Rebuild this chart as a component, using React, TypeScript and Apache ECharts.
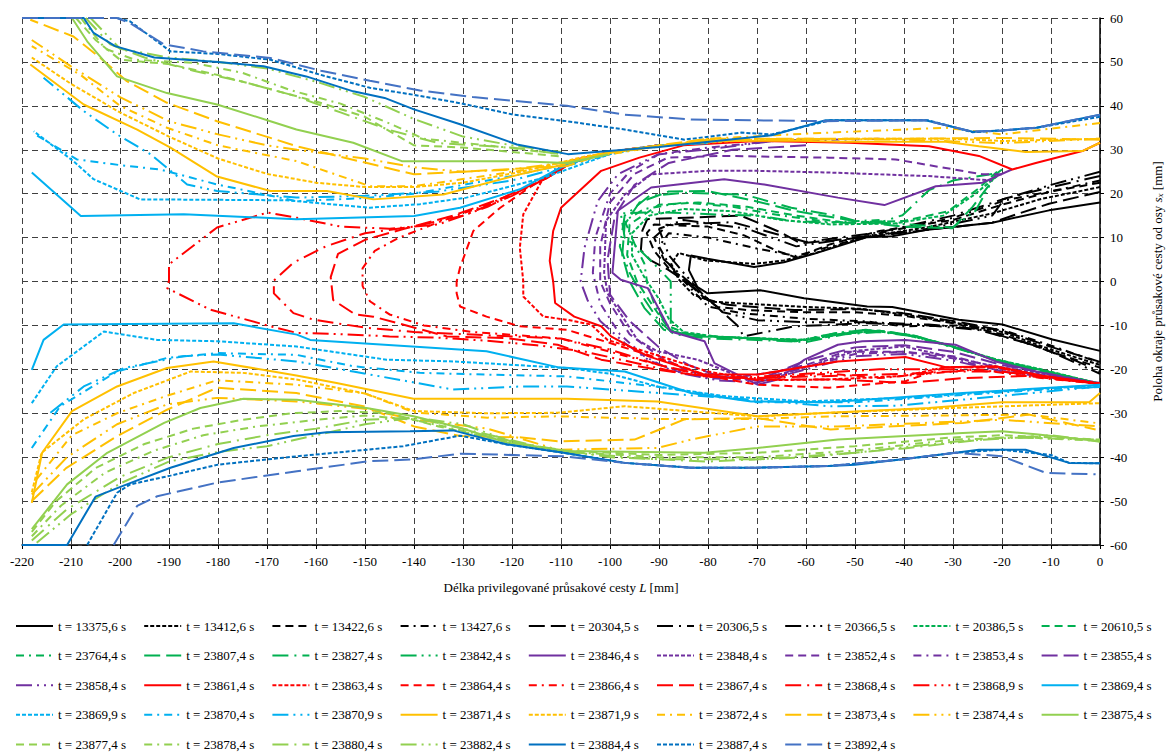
import React, { useEffect, useRef } from "react";
import * as echarts from "echarts";

type Pt = [number, number];

// ---------- axis ticks ----------
const xMin = -220;
const xMax = 0;
const xStep = 10;
const yMin = -60;
const yMax = 60;
const yStep = 10;

// ---------- legend names (row order, 9 per row) ----------
const seriesNames: string[] = [
  "t = 13375,6 s", "t = 13412,6 s", "t = 13422,6 s", "t = 13427,6 s", "t = 20304,5 s", "t = 20306,5 s", "t = 20366,5 s", "t = 20386,5 s", "t = 20610,5 s",
  "t = 23764,4 s", "t = 23807,4 s", "t = 23827,4 s", "t = 23842,4 s", "t = 23846,4 s", "t = 23848,4 s", "t = 23852,4 s", "t = 23853,4 s", "t = 23855,4 s",
  "t = 23858,4 s", "t = 23861,4 s", "t = 23863,4 s", "t = 23864,4 s", "t = 23866,4 s", "t = 23867,4 s", "t = 23868,4 s", "t = 23868,9 s", "t = 23869,4 s",
  "t = 23869,9 s", "t = 23870,4 s", "t = 23870,9 s", "t = 23871,4 s", "t = 23871,9 s", "t = 23872,4 s", "t = 23873,4 s", "t = 23874,4 s", "t = 23875,4 s",
  "t = 23877,4 s", "t = 23878,4 s", "t = 23880,4 s", "t = 23882,4 s", "t = 23884,4 s", "t = 23887,4 s", "t = 23892,4 s",
];

// ---------- black ----------
const s13375_6: Pt[] = [[0,18],[-10.4,16.2],[-22,13.4],[-35.6,11.7],[-42.4,10.3],[-47.5,10.1],[-58.4,6.3],[-64.5,4.4],[-70.6,3.3],[-80.1,5.2],[-83.5,5.9],[-83.9,2.6],[-82.2,-1.2],[-80.1,-2.7],[-69.3,-2],[-60.4,-3.8],[-47.5,-5.7],[-42.4,-5.8],[-28.8,-8.7],[-19.9,-9.8],[-9.7,-13.2],[0,-15.8]];
const s13412_6: Pt[] = [[0,21.5],[-12,18.8],[-22,15.5],[-35,12.4],[-47,10.3],[-52,8.8],[-58,6.5],[-64.5,4.8],[-70.6,4],[-80.5,4.8],[-86,6.5],[-87.5,4],[-86,0.5],[-83,-3],[-79,-4.6],[-70,-5.2],[-60,-5.8],[-49,-6.2],[-40,-7.5],[-30,-9.3],[-20,-11.5],[-10,-15.5],[0,-19]];
const s13422_6: Pt[] = [[0,22.5],[-10,20.5],[-20,17.5],[-30,14],[-45,11.5],[-55,8.5],[-62,5.5],[-66,7],[-72.6,10.5],[-80,12.5],[-91,13],[-92.5,11],[-91,7],[-88,3],[-84,0],[-81,-3.5],[-78,-5.8],[-72,-6.5],[-60,-7],[-50,-7],[-40,-7.8],[-30,-9.5],[-20,-12],[-10,-16],[0,-19.6]];
const s13427_6: Pt[] = [[0,23],[-8,21],[-19.3,18.5],[-30,14.5],[-45,11],[-55,8],[-62,5.8],[-70,7.5],[-80,10],[-88,11],[-90,8],[-88,4],[-84,-1],[-80,-5.7],[-73.3,-7.2],[-60,-8.5],[-47.5,-9.1],[-40.3,-10.2],[-28.8,-10],[-19.9,-11],[-9.7,-14.7],[0,-18.5]];
const s20304_5: Pt[] = [[0,20.4],[-10.4,17.7],[-16.5,15.5],[-22,13.4],[-35.6,11.7],[-47.5,10.1],[-61.1,8.7],[-65.2,11.2],[-73.3,15],[-92.4,14.2],[-93.4,11.6],[-93.7,7.1],[-91.7,4.8],[-88,2.6],[-84,-0.5],[-80.5,-4],[-76,-5.3],[-62.4,-6.5],[-49,-6.3],[-40.3,-7.2],[-28.8,-9.2],[-19.9,-11.2],[-9.7,-15],[0,-18.3]];
const s20306_5: Pt[] = [[0,24],[-10,21.5],[-19,19],[-30,15],[-45,11.2],[-60,9],[-75,13.5],[-88,13],[-91,10],[-89,5],[-84,0],[-78,-6],[-74,-10],[-72.7,-12.5],[-62.4,-10.2],[-47.5,-9.5],[-35,-10],[-25,-11],[-15,-14],[-5,-18],[0,-20.5]];
const s20366_5: Pt[] = [[0,25],[-10,22],[-19.5,18.8],[-22,15],[-35,12],[-50,10],[-62,8],[-72,12],[-85,14],[-90,12],[-88,6],[-85,2],[-81,-3],[-77,-7],[-70,-8.8],[-60,-9.3],[-47.5,-9.3],[-35,-9.8],[-25,-10.8],[-12,-15],[0,-21]];

// ---------- dark green ----------
const s20386_5: Pt[] = [[-21,24],[-26,19.5],[-32,15],[-42,13.2],[-55,13],[-65,14],[-75,16],[-85,16.5],[-92,15],[-95.5,11],[-95.5,6],[-93,1],[-90,-4],[-88,-8.5],[-85,-11.5],[-78,-12.6],[-68,-13],[-60,-13.3],[-52,-11.8],[-45,-11.3],[-38,-12.4],[-30,-14.8],[-21,-17.8],[-12,-20],[0,-23.3]];
const s20610_5: Pt[] = [[-21,25],[-25,21],[-31,16],[-40,13.8],[-52,13.4],[-62,15],[-72,17],[-82,18],[-90,17.5],[-96,13],[-96.5,6],[-94.5,0],[-91,-6],[-88.5,-10],[-84,-12],[-75,-12.8],[-65,-13.3],[-58,-13.2],[-52,-11.7],[-45,-11.2],[-38,-12.3],[-30,-14.9],[-21,-17.9],[-12,-20.2],[0,-23.3]];
const s23764_4: Pt[] = [[-45,14],[-55,13.5],[-65,15],[-75,17],[-85,18],[-93,16.5],[-97,13.8],[-95,8.6],[-93,4.1],[-92.4,-0.4],[-91,-5],[-89,-9],[-87,-11.5],[-80,-12.5],[-70,-12.9],[-62,-13.6],[-53.5,-11.7],[-47.8,-11],[-39.7,-12.1],[-30.1,-14.8],[-21.3,-17.8],[-14.5,-19.5],[0,-23.3]];
const s23807_4: Pt[] = [[-22.6,22],[-26,17],[-30.1,12.1],[-40.3,12.5],[-49.2,13.6],[-62.4,16.1],[-70.6,18.4],[-80.1,20.6],[-88,20.5],[-94,18],[-97,13],[-97.5,6],[-96,0],[-93,-6],[-89,-11],[-82,-12.5],[-70,-13],[-60,-13.3],[-52,-11.8],[-45,-11.2],[-38,-12.3],[-30,-14.8],[-21,-18],[-10,-21],[0,-23.3]];
const s23827_4: Pt[] = [[-22,24.5],[-30,23],[-34.9,20.8],[-40.3,15.1],[-44.4,13.6],[-49.2,13.6],[-53.5,14.9],[-63,16.8],[-72.6,19.8],[-84.8,20.2],[-92,19.5],[-97,15],[-98,8],[-96,2],[-93,-4],[-90,-9],[-87,-12],[-80,-13],[-70,-13.3],[-60,-13.8],[-52,-12],[-45,-11.5],[-38,-12.5],[-30,-15],[-20,-18.3],[-10,-21],[0,-23.3]];
const s23842_4: Pt[] = [[-20,25.5],[-21.3,24.4],[-25.4,16.1],[-30.1,12.3],[-44.4,13.4],[-55.3,13.4],[-63,13.8],[-69.9,15],[-76.7,15.2],[-90.3,15.8],[-97.8,15.5],[-97,10],[-94.4,7.7],[-90.3,3.2],[-87.6,0],[-87.6,-11.4],[-80.1,-12.5],[-69.9,-12.9],[-62.4,-13.6],[-53.5,-11.7],[-47.8,-11],[-39.7,-12.1],[-30.1,-14.8],[-21.3,-17.8],[-14.5,-19.5],[0,-23.3]];

// ---------- purple ----------
const s23846_4: Pt[] = [[-18,25.5],[-24,22.5],[-33.5,21.7],[-44,17.4],[-53.5,19.1],[-68.5,22.1],[-76.7,23.3],[-91.6,21.4],[-98.4,16.1],[-99.5,2],[-97.8,0.4],[-92.3,-1.5],[-87.6,-11.4],[-80.7,-13.6],[-78.7,-18.6],[-69.9,-23.5],[-65.8,-22.3],[-60.3,-17.8],[-53.5,-14.4],[-48.5,-13.6],[-39.7,-13.3],[-29.5,-14.4],[-21.3,-18.2],[-13.1,-20.5],[0,-23.5]];
const s23848_4: Pt[] = [[-22,23],[-35,24],[-55,24.8],[-70,25.2],[-80,25.2],[-91.6,24.4],[-97,19.8],[-100.8,13.8],[-101.2,2],[-100.5,-2.7],[-94.4,-13.3],[-90.3,-15.9],[-82.1,-17.8],[-75,-21],[-69.9,-22.5],[-60,-19.5],[-50,-15.8],[-40,-14.8],[-28,-17.8],[-21.3,-19.3],[0,-23.1]];
const s23852_4: Pt[] = [[-20,24.4],[-24,24.4],[-41.7,27.8],[-55.3,28.2],[-76.7,28.6],[-88.2,28.2],[-95,24.5],[-100,18],[-102,8],[-102,0],[-100,-5],[-96,-12],[-90,-17],[-84,-20.5],[-75,-22],[-66,-20.5],[-60,-19],[-52,-16],[-40,-16],[-30,-17],[-20,-20],[0,-23.3]];
const s23853_4: Pt[] = [[-45,32.5],[-66.5,32],[-80,30.5],[-90,29],[-96,25],[-100,20],[-103,10],[-103.5,2],[-102,-5],[-98,-12],[-93,-17],[-88,-20],[-80,-22],[-70,-22.5],[-60,-19.5],[-50,-16.5],[-40,-16],[-30,-17.5],[-20,-20.5],[0,-23.3]];
const s23855_4: Pt[] = [[-60,31],[-75,30],[-88,27],[-95,22],[-99,15],[-100.5,5],[-100,-3],[-96,-9],[-90,-15],[-84,-19],[-78,-21.5],[-70,-22.5],[-60,-18],[-50,-15],[-40,-14.5],[-30,-16],[-20,-19],[0,-23.3]];
const s23858_4: Pt[] = [[-60,32.3],[-66.5,32],[-80.1,30.1],[-90.3,28.9],[-98.4,24.4],[-102.5,18.3],[-105.2,7.7],[-106,0],[-104.6,-4.2],[-102,-9],[-97,-14],[-92,-18],[-85,-21],[-78,-22.5],[-70,-23],[-60,-20],[-50,-17],[-40,-16.5],[-30,-18],[-20,-20.5],[0,-23.3]];

// ---------- red ----------
const s23861_4: Pt[] = [[0,31.6],[-3.6,29.7],[-13.1,27],[-17.9,25.5],[-24.7,28.6],[-34.9,30.8],[-51.2,31.6],[-70,32],[-85,31],[-94,28.2],[-101.8,25.2],[-110,16.8],[-111.6,11.5],[-112.3,4.7],[-111.6,0],[-111.2,-4.9],[-107.3,-8],[-101.8,-10.2],[-99.8,-12.5],[-92.3,-17],[-80.7,-21.2],[-69.9,-21.2],[-53.5,-18.2],[-39.7,-17.2],[-31.5,-19.5],[-21.3,-19.3],[-11.1,-21.6],[0,-23.3]];
const s23863_4: Pt[] = [[-90,31],[-100,29.5],[-108,27.5],[-113.6,23.6],[-117.7,15.3],[-118.4,7.7],[-117.7,0],[-117.7,-3.4],[-113.6,-8],[-108.8,-8.7],[-103.9,-9.8],[-100.5,-13.3],[-90.3,-16.8],[-80,-20.5],[-70,-22.5],[-55.3,-22.3],[-40,-21.5],[-31.5,-19.5],[-21.3,-19.5],[-11,-21.7],[0,-23.3]];
const s23864_4: Pt[] = [[-90,31],[-100,29.5],[-108,27],[-113.6,23.6],[-122.4,16.8],[-127.9,11.5],[-130.6,3.2],[-131.3,0],[-131.3,-2.7],[-130.6,-5.7],[-125.2,-8],[-118.4,-10.2],[-108.8,-11],[-100,-14],[-90,-17.5],[-80,-21.5],[-70,-23.5],[-55.3,-24.2],[-39.7,-22.7],[-31.5,-19.5],[-21.3,-19.5],[-11,-21.7],[0,-23.3]];
const s23866_4: Pt[] = [[-90,31],[-100,29.5],[-108,27],[-113,23.5],[-125,17.5],[-135,13.5],[-143,10],[-148,7],[-150.5,3],[-150.5,-1],[-149,-4.5],[-145,-7.5],[-138,-10],[-128,-11.5],[-118,-12.3],[-110,-13],[-100,-16],[-90,-19],[-80,-21.7],[-70,-22],[-55,-21],[-45,-22],[-35,-21],[-25,-20],[-12,-22],[0,-23.3]];
const s23867_4: Pt[] = [[-90,31],[-100,29.5],[-108,27],[-113,23.5],[-122,19],[-132,15],[-142,12],[-150,9.5],[-155.5,6.3],[-157,1],[-156.5,-4.2],[-152,-7.5],[-148.3,-8],[-133.3,-12.5],[-121,-12.9],[-110.7,-14.4],[-101.8,-17.8],[-90.3,-20.1],[-80.7,-21.6],[-70,-22.3],[-53.5,-22.3],[-39.7,-23.1],[-28,-22],[-15,-21.5],[0,-23.3]];
const s23868_4: Pt[] = [[-90,31],[-100,29.5],[-108,27],[-113,23.5],[-120,19.5],[-130,15],[-140,12.5],[-150,11],[-158,8],[-164.6,4.3],[-168.6,0.2],[-168.6,-2.7],[-164.6,-7.2],[-160.5,-8.7],[-150,-10.5],[-140,-11.5],[-130,-12],[-120,-12.5],[-110,-13],[-100,-15.5],[-90,-19],[-80,-21.5],[-70,-22],[-55,-21.5],[-40,-21],[-30,-20.5],[-20,-20.5],[-10,-22],[0,-23.3]];
const s23868_9: Pt[] = [[-90,31],[-100,29.5],[-108,27],[-113,23.5],[-125,17],[-135,13],[-145,12],[-155,12.5],[-163.9,14.5],[-169.9,15.7],[-180.2,12.3],[-190,3.9],[-190,0.2],[-190.4,-1.5],[-181.6,-6.4],[-169.3,-10.2],[-163.9,-11.7],[-155,-12],[-145,-12.5],[-135,-12.8],[-125,-13.5],[-115,-14.5],[-105,-16],[-95,-18.5],[-85,-21],[-75,-22],[-60,-21],[-45,-20],[-30,-20],[-15,-21],[0,-23.3]];

// ---------- cyan ----------
const s23869_4_up: Pt[] = [[-80,31.5],[-90,31],[-100,29.5],[-108.8,26.7],[-118.4,21],[-130.6,16.8],[-140,14.9],[-164,14.2],[-187,15.3],[-208,14.9],[-218,24.8]];
const s23869_4_lo: Pt[] = [[-218,-20.1],[-215.6,-13.3],[-211.5,-9.8],[-176.8,-9.5],[-163.9,-12.1],[-161.2,-13.3],[-125.2,-15.9],[-110.7,-19.5],[-97,-20.5],[-83.5,-25.4],[-71.2,-27.3],[-55.3,-27.5],[-28,-25.4],[0,-23.5]];
const s23869_9_up: Pt[] = [[-90,31],[-100,29],[-113.6,23.6],[-129.3,19.1],[-138.8,17.6],[-149,16.8],[-166,18.5],[-195.9,18.7],[-205.4,23.3],[-209.5,27.4],[-217.6,34.2]];
const s23869_9_lo: Pt[] = [[-218,-27.7],[-212.9,-19.3],[-203.3,-11.4],[-192.4,-13.3],[-180.2,-13.6],[-164,-14.8],[-145.6,-17.8],[-132,-18.2],[-108.8,-19.7],[-100,-21],[-90.3,-23.9],[-76.7,-26.1],[-60,-27.3],[-40,-26.5],[-20,-25],[0,-23.6]];
const s23870_4_up: Pt[] = [[-100,29],[-110,26.5],[-120,24],[-130,22],[-140,20],[-150,19],[-164,18.3],[-180.2,22.1],[-191.8,25.5],[-200,26.5],[-208.8,27.8],[-217.3,33.5]];
const s23870_4_lo: Pt[] = [[-218,-37.9],[-212.2,-28.4],[-200.6,-20.5],[-190.4,-17.4],[-180.2,-16.3],[-164,-16.7],[-152.4,-19.3],[-138.8,-20.8],[-125.2,-21.2],[-108.8,-21.6],[-90,-24],[-70,-27.5],[-50,-27.5],[-30,-26],[-10,-24.5],[0,-24]];
const s23870_9_up: Pt[] = [[-100,29],[-110,26],[-120,23],[-135,20.5],[-150,19.5],[-164,19.1],[-180.2,20.6],[-186.3,22.1],[-193.8,29],[-200.6,33.5],[-207.4,38.8],[-215.6,46.4]];
const s23870_9_lo: Pt[] = [[-214.2,-29.9],[-207.4,-23.9],[-199.2,-19.7],[-187,-17],[-180.2,-16.6],[-164,-18.2],[-152.4,-20.5],[-132,-24.6],[-118.4,-23.9],[-108.8,-23.9],[-90,-25.4],[-70,-27],[-55.3,-28.4],[-41.7,-28.3],[-28,-26.9],[0,-23.9]];

// ---------- yellow ----------
const s23871_4_up: Pt[] = [[0,31.6],[-3.6,29.7],[-15.2,29.5],[-24.7,30.8],[-31.5,31.8],[-53.5,31.8],[-63,32.1],[-80.1,32],[-90.3,30.8],[-102.5,29],[-110.7,26.3],[-118.4,24.4],[-134,19.8],[-148.3,18.7],[-157.8,20.6],[-169.3,20.6],[-180.2,23.9],[-189.7,30.5],[-196.5,34.6],[-207.4,40.3],[-218.3,49.4]];
const s23871_4_lo: Pt[] = [[-218,-50.4],[-215.9,-39],[-209.8,-29.5],[-200.6,-23.9],[-190.4,-19.7],[-180.9,-18.2],[-164,-21.4],[-155.8,-23.1],[-140.1,-26.7],[-108.8,-26.7],[-90.3,-27.3],[-69.9,-30.7],[-55.3,-29.9],[-34.9,-28.8],[-20,-27.5],[-2.2,-27.5],[0,-25.4]];
const s23871_9_up: Pt[] = [[0,32.5],[-20,32],[-30,32.5],[-50,32.5],[-70,32.3],[-90,31],[-105,28.5],[-118,25],[-130,22.5],[-140,21.5],[-150,21.5],[-160,22.5],[-170,24.5],[-180,28],[-190,33],[-200,38.5],[-210,45],[-218,51]];
const s23871_9_lo: Pt[] = [[-218,-48],[-216,-39],[-207.4,-31.4],[-197.2,-25.4],[-185.6,-20.5],[-175,-20.8],[-164,-22.3],[-150,-25.5],[-140,-29.5],[-125,-30],[-110.7,-29.9],[-97,-28.4],[-70,-30.7],[-55.3,-29.9],[-30,-28.8],[0,-27.7]];
const s23872_4_up: Pt[] = [[0,36.1],[-20,33.5],[-31.5,35],[-55.3,33.9],[-63,33.5],[-80,32.5],[-100,29],[-110,27],[-118.4,25.2],[-140,21.7],[-149,21.7],[-163.9,27.4],[-180,31],[-190.4,35],[-200,40],[-208,47],[-218,53.6]];
const s23872_4_lo: Pt[] = [[-217,-45],[-209.8,-35],[-200.6,-30],[-190.4,-26],[-180.2,-22.5],[-164,-23.5],[-150,-25.5],[-140,-29.8],[-125,-31],[-110.7,-30.7],[-90,-31.3],[-70,-31.3],[-55,-30.7],[-30,-30.5],[-14.5,-30.3],[-0.9,-32.2]];
const s23873_4_up: Pt[] = [[0,32.3],[-20,32.7],[-40,32.5],[-60,32.5],[-80,32.5],[-100,29.5],[-108.8,26.3],[-140,24.4],[-163.9,30.8],[-169.3,32.7],[-180.2,36.5],[-190.4,40.7],[-198.6,45.6],[-204,50.9],[-209.5,55.8],[-218.3,59.6]];
const s23873_4_lo: Pt[] = [[-218,-50],[-211,-42.5],[-200.6,-35.2],[-190.4,-29.2],[-180.2,-24.2],[-164,-25.4],[-150,-28.5],[-140,-33],[-130.6,-35.2],[-118,-35.5],[-110.7,-36.4],[-95,-36],[-84.8,-31.4],[-70,-31.1],[-55,-33.7],[-28,-32.2],[-14.5,-30.3],[-0.9,-33.7]];
const s23874_4_up: Pt[] = [[0,32.5],[-20,31.5],[-40,32.3],[-60,32.5],[-80,32.3],[-100,29.3],[-110,27],[-120,25.5],[-130,25],[-140,26],[-150,28],[-163.9,30],[-170,31],[-180,33.5],[-190,36.5],[-200,42],[-210,49],[-218,55]];
const s23874_4_lo: Pt[] = [[-218,-48.5],[-210.8,-40],[-200.6,-32.5],[-190.4,-28],[-180.2,-26.5],[-164,-27.3],[-150,-29],[-140,-31.4],[-125,-33.5],[-110.7,-38.3],[-90.3,-37.9],[-83.5,-36],[-70,-33],[-53.5,-33],[-20,-31.5],[0,-33]];

// ---------- light green ----------
const s23875_4_up: Pt[] = [[-100.5,28.9],[-108.8,27],[-118.4,27.4],[-142.5,27.4],[-152.4,31.6],[-164,34.6],[-169.3,36.5],[-180.2,40.3],[-190.4,42.9],[-200.6,46.7],[-206.7,54.7],[-209.8,60]];
const s23875_4_lo: Pt[] = [[-218,-56.4],[-210.8,-46.2],[-202.6,-39],[-191,-32.2],[-183.6,-28.8],[-174.8,-26.7],[-163.9,-26.9],[-149.7,-28.8],[-140.1,-30.7],[-130.6,-33.3],[-121,-36.7],[-108.8,-38.6],[-80.7,-39],[-69.9,-37.9],[-53.5,-36],[-28,-34.5],[-20,-34.1],[-13.1,-34.8],[0,-36.4]];
const s23877_4_up: Pt[] = [[-209,60],[-205,55],[-200,50.5],[-190,49.5],[-180,47],[-170,44],[-160,41],[-150,37.5],[-140,31],[-130,30.5],[-120,29.5],[-110,28.5]];
const s23877_4_lo: Pt[] = [[-218,-57],[-213,-50],[-205,-42.5],[-195,-37],[-185,-33.5],[-175,-31.5],[-165,-30],[-155,-29.5],[-145,-30],[-135,-33],[-125,-35.5],[-110,-38.5],[-90,-39.5],[-70,-39],[-50,-37.5],[-30,-35.5],[-20,-35],[-10,-35.5],[0,-36]];
const s23878_4_up: Pt[] = [[-208,60],[-203,53],[-197,50.5],[-185,49.8],[-175,47.5],[-165,43.5],[-155,40.5],[-145,36],[-138,32.5],[-125,31],[-110,29]];
const s23878_4_lo: Pt[] = [[-218,-58],[-212,-51],[-203,-43.5],[-193,-38.5],[-183,-35],[-172,-33],[-160,-31.5],[-150,-30.5],[-140,-31.5],[-130,-34],[-120,-36.5],[-110,-38.7],[-90,-40],[-70,-40],[-50,-38.5],[-30,-36],[-15,-35.5],[0,-36.3]];
const s23880_4_up: Pt[] = [[-207,60],[-202,54],[-195,51],[-185,48],[-175,45.5],[-165,42.5],[-155,38.5],[-145,34.5],[-135,31.5],[-120,30.5],[-110,29]];
const s23880_4_lo: Pt[] = [[-218,-59],[-211,-52],[-200,-44.5],[-190,-40],[-180,-37],[-170,-35],[-160,-33.5],[-150,-31.5],[-140,-31],[-130,-33.5],[-115,-37.5],[-100,-40],[-80,-41],[-60,-40],[-40,-38],[-20,-35.5],[0,-36]];
const s23882_4_up: Pt[] = [[-206,60],[-200,53],[-190,51],[-180,50],[-170,48.5],[-160,45.5],[-150,42],[-140,37],[-130,33],[-120,31],[-110,29.5]];
const s23882_4_lo: Pt[] = [[-217,-59.5],[-210,-53],[-200,-46],[-190,-41],[-180,-38.8],[-170,-37.5],[-160,-35],[-150,-32.5],[-140,-31],[-130,-32.5],[-120,-36.5],[-110,-38.8],[-90,-40.5],[-70,-40.5],[-50,-39],[-30,-36.5],[-10,-35],[0,-36.5]];

// ---------- blue ----------
const s23884_4_up: Pt[] = [[0,38],[-13,35],[-20,34.4],[-26,34.1],[-35.6,36.7],[-56,36.7],[-67,33.3],[-90,30.6],[-108.6,29],[-119,31.2],[-130.6,35.8],[-140,39.2],[-146,41.8],[-152.4,43.3],[-162,46.7],[-170.7,49],[-180,50],[-193,51],[-201,53.6],[-205.4,56.6],[-207.4,60],[-220,60]];
const s23884_4_lo: Pt[] = [[-220,-60],[-210.8,-60],[-205,-49],[-198.6,-46.2],[-189.7,-42.4],[-176.8,-37.9],[-164.6,-35.2],[-157.8,-34.3],[-140.8,-34.1],[-132,-33.9],[-121,-37.1],[-109.5,-39],[-97,-41.3],[-83.5,-42.4],[-70,-42.4],[-55.3,-42],[-50,-41.7],[-40.3,-40.5],[-29.5,-39],[-24.7,-38.3],[-15.2,-38.3],[-6.3,-41.3],[0,-41.4]];
const s23887_4_up: Pt[] = [[0,37.5],[-13,35],[-20,34.4],[-26,34],[-35,36.7],[-55,36.7],[-67,33.5],[-73.3,33.9],[-84.8,32.3],[-97,34.6],[-108.8,36.5],[-119.7,38],[-130.6,40.6],[-140,42.5],[-149,44.1],[-159.2,47.1],[-169.3,50.5],[-180,51.8],[-189.7,52.4],[-197.9,59.2],[-200.6,60]];
const s23887_4_lo: Pt[] = [[-206.7,-60],[-200.6,-48.1],[-197.9,-46.2],[-189.7,-44.2],[-180,-41.7],[-163.9,-39.8],[-152.4,-38.6],[-142.2,-37.5],[-130.6,-35.1],[-121,-37.1],[-109.5,-39],[-97,-41.3],[-83.5,-42.4],[-70,-42.4],[-55.3,-42],[-40.3,-40.5],[-29.5,-39],[-20,-38.3],[-10,-39.5],[-6.3,-41.3],[0,-41.4]];
const s23892_4_up: Pt[] = [[-220,60],[-200.6,60],[-197.9,58.8],[-191,54],[-183,52.4],[-169.3,50.9],[-164,49.4],[-159,48],[-149,45.7],[-138.8,43.5],[-128,42],[-108.8,40],[-97,38],[-83.5,36.9],[-56.3,36.5],[-35.6,36.7],[-26,34.1],[-20,34.4],[-13,35],[0,38]];
const s23892_4_lo: Pt[] = [[-201.3,-60],[-196.5,-51.1],[-192.4,-48.9],[-180.2,-45.8],[-163.9,-43.2],[-149,-40.9],[-140,-40.5],[-130.6,-39.2],[-109.5,-39.8],[-97,-41.3],[-83.5,-42.4],[-70,-42.4],[-55.3,-42],[-40.3,-40.5],[-29.5,-39],[-20,-39.8],[-11,-43.6],[-0.9,-43.9]];

// branches of each series, same order as seriesNames
const seriesBranches: Pt[][][] = [
  [s13375_6], [s13412_6], [s13422_6], [s13427_6], [s20304_5], [s20306_5], [s20366_5], [s20386_5], [s20610_5],
  [s23764_4], [s23807_4], [s23827_4], [s23842_4], [s23846_4], [s23848_4], [s23852_4], [s23853_4], [s23855_4],
  [s23858_4], [s23861_4], [s23863_4], [s23864_4], [s23866_4], [s23867_4], [s23868_4], [s23868_9], [s23869_4_up, s23869_4_lo],
  [s23869_9_up, s23869_9_lo], [s23870_4_up, s23870_4_lo], [s23870_9_up, s23870_9_lo], [s23871_4_up, s23871_4_lo], [s23871_9_up, s23871_9_lo], [s23872_4_up, s23872_4_lo], [s23873_4_up, s23873_4_lo], [s23874_4_up, s23874_4_lo], [s23875_4_up, s23875_4_lo],
  [s23877_4_up, s23877_4_lo], [s23878_4_up, s23878_4_lo], [s23880_4_up, s23880_4_lo], [s23882_4_up, s23882_4_lo], [s23884_4_up, s23884_4_lo], [s23887_4_up, s23887_4_lo], [s23892_4_up, s23892_4_lo],
];

// ---------- styles ----------
const BLACK = "#000000";
const GREEN = "#00B050";
const PURPLE = "#7030A0";
const RED = "#FF0000";
const CYAN = "#00B0F0";
const YELLOW = "#FFC000";
const LGREEN = "#92D050";
const BLUE = "#0070C0";
const BLUE2 = "#4472C4";

const seriesColors: string[] = [
  BLACK, BLACK, BLACK, BLACK, BLACK, BLACK, BLACK, GREEN, GREEN,
  GREEN, GREEN, GREEN, GREEN, PURPLE, PURPLE, PURPLE, PURPLE, PURPLE,
  PURPLE, RED, RED, RED, RED, RED, RED, RED, CYAN,
  CYAN, CYAN, CYAN, YELLOW, YELLOW, YELLOW, YELLOW, YELLOW, LGREEN,
  LGREEN, LGREEN, LGREEN, LGREEN, BLUE, BLUE, BLUE2,
];

const seriesDash: string[] = [
  "solid", "sysDot", "dash", "dashDot", "longDash", "longDashDot", "longDashDotDot", "sysDot", "dash",
  "dashDot", "longDash", "longDashDot", "longDashDotDot", "solid", "sysDot", "dash", "dashDot", "longDash",
  "longDashDotDot", "solid", "sysDot", "dash", "dashDot", "longDash", "longDashDot", "longDashDotDot", "solid",
  "sysDot", "dashDot", "longDashDotDot", "solid", "sysDot", "dashDot", "longDash", "longDashDotDot", "solid",
  "dash", "dashDot", "longDashDot", "longDashDotDot", "solid", "sysDot", "longDash",
];

const DASHES: Record<string, any> = {
  solid: "solid",
  sysDot: [4, 2],
  dash: [8, 5],
  dashDot: [8, 5, 2, 5],
  longDash: [16, 6],
  longDashDot: [16, 6, 2, 6],
  longDashDotDot: [16, 5, 2, 5, 2, 5],
};

const FONT = '"Liberation Serif", "Times New Roman", serif';

function buildOption() {
  const series: any[] = [];
  seriesBranches.forEach((branches, i) => {
    branches.forEach((pts) => {
      series.push({
        type: "line",
        name: seriesNames[i],
        data: pts,
        symbol: "none",
        showSymbol: false,
        silent: true,
        animation: false,
        clip: true,
        lineStyle: { color: seriesColors[i], width: 2, type: DASHES[seriesDash[i]] },
        itemStyle: { color: seriesColors[i] },
      });
    });
  });

  const legends: any[] = [];
  for (let c = 0; c < 9; c++) {
    const data: string[] = [];
    for (let r = 0; r < 5; r++) {
      const idx = r * 9 + c;
      if (idx < seriesNames.length) data.push(seriesNames[idx]);
    }
    legends.push({
      orient: "vertical",
      left: 15 + c * 128.2,
      top: 619,
      padding: 0,
      itemGap: 15.6,
      itemWidth: 37,
      itemHeight: 14,
      selectedMode: false,
      data,
      itemStyle: { opacity: 0, borderWidth: 0 },
      textStyle: { fontFamily: FONT, fontSize: 13, color: "#000", lineHeight: 14 },
    });
  }

  return {
    animation: false,
    backgroundColor: "#ffffff",
    grid: { left: 22, right: 76, top: 18, bottom: 211, containLabel: false, outerBoundsMode: "none" },
    legend: legends,
    xAxis: {
      type: "value",
      min: xMin,
      max: xMax,
      interval: xStep,
      position: "bottom",
      name: "Délka privilegované průsakové cesty {i|L} [mm]",
      nameLocation: "middle",
      nameGap: 36,
      nameTextStyle: {
        fontFamily: FONT, fontSize: 13, color: "#000",
        rich: { i: { fontFamily: FONT, fontSize: 13, color: "#000", fontStyle: "italic" } },
      },
      axisLine: { show: true, onZero: false, lineStyle: { color: "#000", width: 1.5 } },
      axisTick: { show: true, length: 4, lineStyle: { color: "#000" } },
      axisLabel: { color: "#000", fontFamily: FONT, fontSize: 13, margin: 10 },
      splitLine: { show: true, lineStyle: { color: "#404040", type: [6, 4], width: 1 } },
    },
    yAxis: {
      type: "value",
      min: yMin,
      max: yMax,
      interval: yStep,
      position: "right",
      name: "Poloha okraje průsakové cesty od osy {i|s}{sub|x} [mm]",
      nameLocation: "middle",
      nameGap: 50,
      nameTextStyle: {
        fontFamily: FONT, fontSize: 13, color: "#000",
        rich: {
          i: { fontFamily: FONT, fontSize: 13, color: "#000", fontStyle: "italic" },
          sub: { fontFamily: FONT, fontSize: 9, color: "#000", fontStyle: "italic", verticalAlign: "bottom", padding: [5, 0, 0, 0] },
        },
      },
      axisLine: { show: true, onZero: false, lineStyle: { color: "#000", width: 1.5 } },
      axisTick: { show: true, length: 4, lineStyle: { color: "#000" } },
      axisLabel: { color: "#000", fontFamily: FONT, fontSize: 13, margin: 10 },
      splitLine: { show: true, lineStyle: { color: "#404040", type: [6, 4], width: 1 } },
    },
    series,
  };
}

export default function App() {
  const ref = useRef<HTMLDivElement>(null);
  useEffect(() => {
    if (!ref.current) return;
    const chart = echarts.init(ref.current, null, { renderer: "svg" });
    chart.setOption(buildOption() as any);
    return () => chart.dispose();
  }, []);
  return (
    <div
      ref={ref}
      style={{ position: "absolute", left: 0, top: 0, width: 1176, height: 756, background: "#fff" }}
    />
  );
}
